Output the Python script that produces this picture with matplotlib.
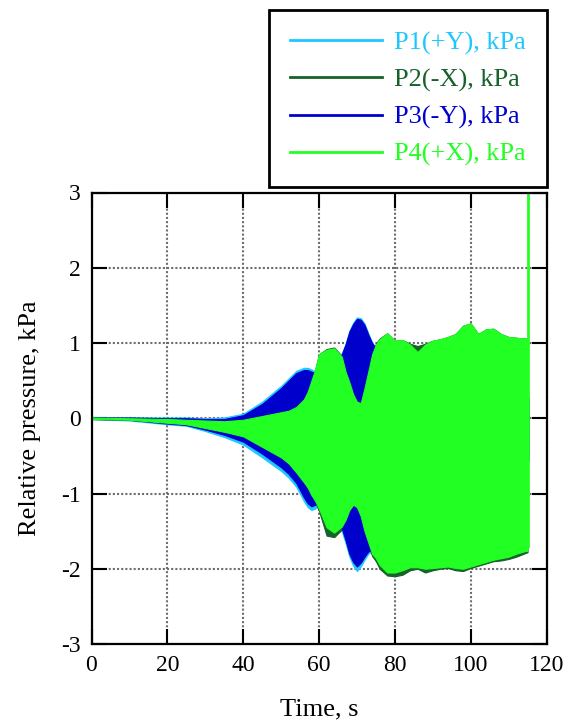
import matplotlib
matplotlib.use('Agg')
import matplotlib.pyplot as plt

plt.rcParams['font.family'] = ['Liberation Serif', 'DejaVu Serif']
plt.rcParams['axes.unicode_minus'] = False

# envelope of each pressure trace (upper / lower peaks)
time_s = [0, 10, 20, 25, 30, 35, 40, 45, 50, 52,
          54, 56, 57, 58, 59, 60, 62, 64, 66, 67,
          68, 69, 70, 71, 72, 73, 74, 75, 76, 78,
          80, 82, 84, 86, 88, 90, 92, 94, 96, 98,
          100, 102, 104, 106, 108, 110, 112, 114, 115]

p1_upper = [0.01, 0.01, 0.01, 0.01, 0.0, 0.01, 0.06, 0.22, 0.43, 0.53,
            0.63, 0.67, 0.67, 0.65, 0.62, 0.57, 0.56, 0.7, 0.86, 0.99,
            1.16, 1.27, 1.34, 1.33, 1.26, 1.13, 1.01, 0.93, 0.95, 1.0,
            0.95, 0.95, 0.9, 0.85, 0.9, 0.95, 0.95, 0.98, 1.0, 1.05,
            1.05, 1.0, 1.0, 1.0, 0.98, 0.98, 0.98, 0.98, 0.98]
p1_lower = [-0.01, -0.03, -0.08, -0.1, -0.17, -0.25, -0.35, -0.52, -0.7, -0.79,
            -0.91, -1.1, -1.18, -1.22, -1.2, -1.14, -1.22, -1.32, -1.5, -1.66,
            -1.84, -1.96, -2.03, -1.97, -1.88, -1.8, -1.77, -1.76, -1.8, -1.85,
            -1.85, -1.85, -1.85, -1.85, -1.85, -1.85, -1.85, -1.85, -1.85, -1.85,
            -1.82, -1.8, -1.78, -1.76, -1.74, -1.72, -1.7, -1.68, -1.68]

p2_upper = [0.01, 0.0, -0.01, -0.02, -0.03, -0.04, -0.02, 0.03, 0.08, 0.1,
            0.15, 0.25, 0.35, 0.5, 0.65, 0.85, 0.92, 0.94, 0.83, 0.63,
            0.49, 0.33, 0.23, 0.21, 0.41, 0.63, 0.86, 0.99, 1.06, 1.13,
            1.03, 1.04, 0.99, 0.96, 0.99, 1.03, 1.05, 1.08, 1.12, 1.23,
            1.26, 1.12, 1.18, 1.19, 1.12, 1.08, 1.07, 1.06, 1.06]
p2_lower = [-0.01, -0.02, -0.06, -0.08, -0.13, -0.18, -0.24, -0.38, -0.52, -0.6,
            -0.72, -0.85, -0.92, -1.02, -1.12, -1.23, -1.56, -1.58, -1.48, -1.38,
            -1.24, -1.17, -1.2, -1.32, -1.52, -1.68, -1.83, -1.9, -2.0, -2.09,
            -2.1, -2.08, -2.02, -2.0, -2.05, -2.02, -2.0, -1.99, -2.02, -2.03,
            -1.99, -1.96, -1.93, -1.9, -1.89, -1.87, -1.84, -1.8, -1.78]

p3_upper = [0.01, 0.01, 0.0, 0.0, -0.01, -0.01, 0.04, 0.19, 0.4, 0.5,
            0.6, 0.64, 0.64, 0.62, 0.6, 0.55, 0.55, 0.7, 0.85, 0.98,
            1.15, 1.25, 1.32, 1.31, 1.24, 1.11, 1.0, 0.93, 0.95, 1.0,
            0.95, 0.95, 0.9, 0.85, 0.9, 0.95, 0.95, 0.98, 1.0, 1.05,
            1.05, 1.0, 1.0, 1.0, 0.98, 0.98, 0.98, 0.98, 0.98]
p3_lower = [-0.01, -0.02, -0.07, -0.09, -0.15, -0.22, -0.31, -0.47, -0.65, -0.74,
            -0.86, -1.05, -1.13, -1.17, -1.15, -1.1, -1.2, -1.3, -1.46, -1.62,
            -1.8, -1.91, -1.97, -1.92, -1.84, -1.77, -1.75, -1.75, -1.8, -1.85,
            -1.85, -1.85, -1.85, -1.85, -1.85, -1.85, -1.85, -1.85, -1.85, -1.85,
            -1.82, -1.8, -1.78, -1.76, -1.74, -1.72, -1.7, -1.68, -1.68]

p4_upper = [0.01, 0.0, -0.01, -0.02, -0.03, -0.04, -0.02, 0.03, 0.08, 0.1,
            0.15, 0.25, 0.35, 0.5, 0.65, 0.85, 0.91, 0.93, 0.82, 0.62,
            0.48, 0.32, 0.22, 0.2, 0.4, 0.62, 0.85, 0.98, 1.05, 1.13,
            1.03, 1.04, 0.98, 0.88, 0.98, 1.03, 1.05, 1.08, 1.12, 1.23,
            1.26, 1.12, 1.18, 1.19, 1.12, 1.08, 1.07, 1.06, 1.06]
p4_lower = [-0.01, -0.02, -0.06, -0.08, -0.13, -0.18, -0.24, -0.38, -0.52, -0.6,
            -0.72, -0.85, -0.92, -1.02, -1.1, -1.2, -1.45, -1.52, -1.44, -1.35,
            -1.22, -1.15, -1.18, -1.3, -1.5, -1.65, -1.8, -1.86, -1.95, -2.05,
            -2.05, -2.02, -1.98, -1.98, -2.0, -1.99, -1.98, -1.97, -1.99, -2.0,
            -1.97, -1.94, -1.91, -1.88, -1.86, -1.84, -1.8, -1.77, -1.76]

# last samples after the end of the record
p3_tail_t = [115.3, 115.3]
p3_tail_v = [-0.55, 0.25]
p4_tail_t = [115.0, 115.0]
p4_tail_v = [-1.7, 3.2]

names = ['P1(+Y), kPa', 'P2(-X), kPa', 'P3(-Y), kPa', 'P4(+X), kPa']
colors = ['#1ec8ff', '#16622a', '#0000cc', '#22ff22']
uppers = [p1_upper, p2_upper, p3_upper, p4_upper]
lowers = [p1_lower, p2_lower, p3_lower, p4_lower]

fig = plt.figure(figsize=(5.76, 7.23), dpi=100)
ax = fig.add_axes([91.5 / 576, 79 / 723, 455 / 576, 451.5 / 723])

for name, col, up, lo in zip(names, colors, uppers, lowers):
    ax.fill_between(time_s, lo, up, color=col, linewidth=0.8, edgecolor=col)
    ax.plot([], [], color=col, lw=2, label=name)

ax.plot(p3_tail_t, p3_tail_v, color=colors[2], lw=1.2)
ax.plot(p4_tail_t, p4_tail_v, color=colors[3], lw=2)

ax.set_xlim(0, 120)
ax.set_ylim(-3, 3)
ax.set_xticks(range(0, 121, 20))
ax.set_yticks(range(-3, 4))
ax.set_axisbelow(True)
ax.grid(True, color='#6e6e6e', linestyle=(0, (1, 1)), linewidth=1.5)
ax.tick_params(direction='in', length=11, width=1.5, labelsize=17, pad=8,
               top=True, right=True)
for s in ax.spines.values():
    s.set_linewidth(1.6)

ax.set_xlabel('Time, s', fontsize=19, labelpad=16)
ax.set_ylabel('Relative pressure, kPa', fontsize=19, labelpad=14)

leg = fig.legend(loc='upper right', bbox_to_anchor=(547 / 576, 1 - 10 / 723),
                 borderaxespad=0, fontsize=19, labelcolor='linecolor',
                 handlelength=3.5, handletextpad=0.45, labelspacing=0.5,
                 borderpad=0.8, fancybox=False, framealpha=1,
                 edgecolor='black')
leg.get_frame().set_linewidth(2)

plt.savefig('out.png', dpi=100)
